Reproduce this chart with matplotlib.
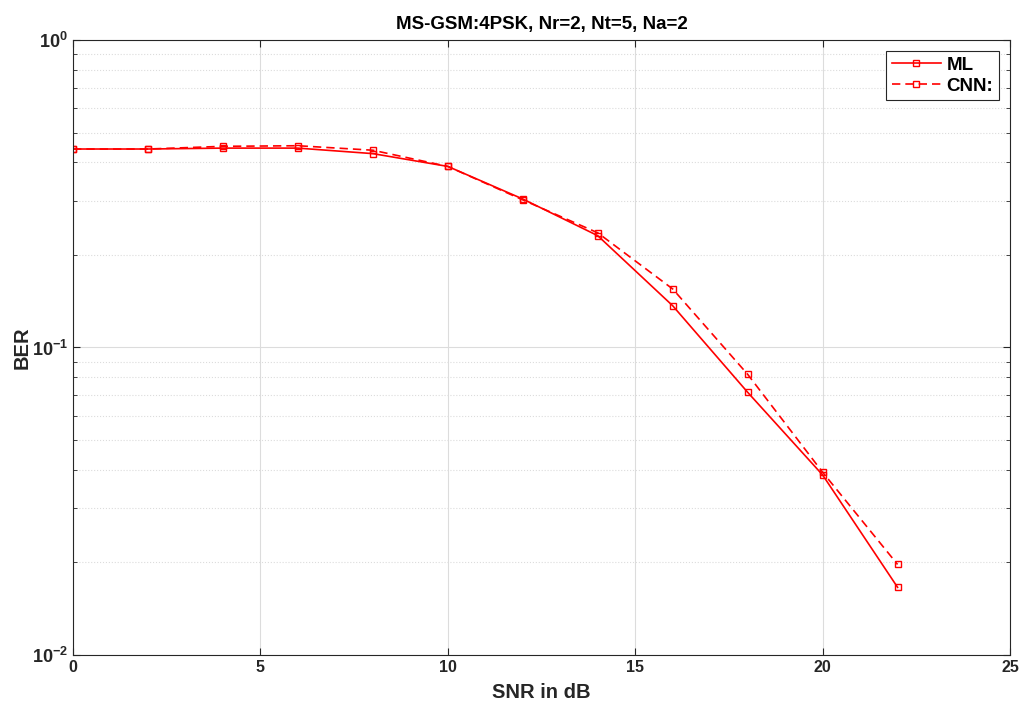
import numpy as np
import matplotlib.pyplot as plt
from matplotlib.ticker import LogLocator, NullFormatter

snr = [0, 2, 4, 6, 8, 10, 12, 14, 16, 18, 20, 22]
ber_ml = [0.442, 0.442, 0.445, 0.445, 0.427, 0.388, 0.304, 0.231, 0.1367, 0.0715, 0.0385, 0.0166]
ber_cnn = [0.442, 0.442, 0.451, 0.453, 0.438, 0.388, 0.302, 0.236, 0.155, 0.0818, 0.0393, 0.0197]

plt.rcParams['font.family'] = ['Liberation Sans', 'DejaVu Sans']
plt.rcParams['font.weight'] = 'bold'
plt.rcParams['mathtext.fontset'] = 'custom'
plt.rcParams['mathtext.rm'] = 'Liberation Sans:bold'
plt.rcParams['mathtext.it'] = 'Liberation Sans:bold'
plt.rcParams['mathtext.bf'] = 'Liberation Sans:bold'
plt.rcParams['axes.unicode_minus'] = False

fig = plt.figure(figsize=(10.3, 7.19), dpi=100)
ax = fig.add_axes([0.0709, 0.089, 0.9097, 0.8554])

ax.semilogy(snr, ber_ml, '-', color='red', marker='s', markersize=5,
            markerfacecolor='none', linewidth=1.2, label='ML')
ax.semilogy(snr, ber_cnn, '--', color='red', marker='s', markersize=5,
            markerfacecolor='none', linewidth=1.2, dashes=(5, 3), label='CNN:')

ax.set_xlim(0, 25)
ax.set_ylim(1e-2, 1)
ax.set_xticks([0, 5, 10, 15, 20, 25])
ax.yaxis.set_major_locator(LogLocator(base=10, numticks=5))
ax.yaxis.set_minor_locator(LogLocator(base=10, subs=np.arange(2, 10), numticks=20))
ax.yaxis.set_minor_formatter(NullFormatter())

ax.grid(True, which='major', color='#dcdcdc', linestyle='-', linewidth=0.8)
ax.grid(True, which='minor', axis='y', color='#dcdcdc', linestyle=':', linewidth=0.8)
ax.set_axisbelow(True)

ax.tick_params(which='both', direction='in', top=True, right=True, colors='#262626',
               labelsize=11.5, labelcolor='#262626')
ax.tick_params(axis='y', labelsize=13)
ax.tick_params(which='major', length=5)
ax.tick_params(which='minor', length=3)
for s in ax.spines.values():
    s.set_color('#262626')
    s.set_linewidth(0.8)

ax.set_xlabel('SNR in dB', fontsize=14.5, fontweight='bold', color='#262626', labelpad=6)
ax.set_ylabel('BER', fontsize=14.5, fontweight='bold', color='#262626', labelpad=0)
ax.set_title('MS-GSM:4PSK, Nr=2, Nt=5, Na=2', fontsize=13.5, fontweight='bold', pad=8)

leg = ax.legend(loc='upper right', fontsize=13.5, fancybox=False, framealpha=1,
                edgecolor='#262626', handlelength=2.6, handletextpad=0.3,
                borderpad=0.3, labelspacing=0.2, borderaxespad=0.6)
leg.get_frame().set_linewidth(0.8)

fig.savefig('out.png', dpi=100)
